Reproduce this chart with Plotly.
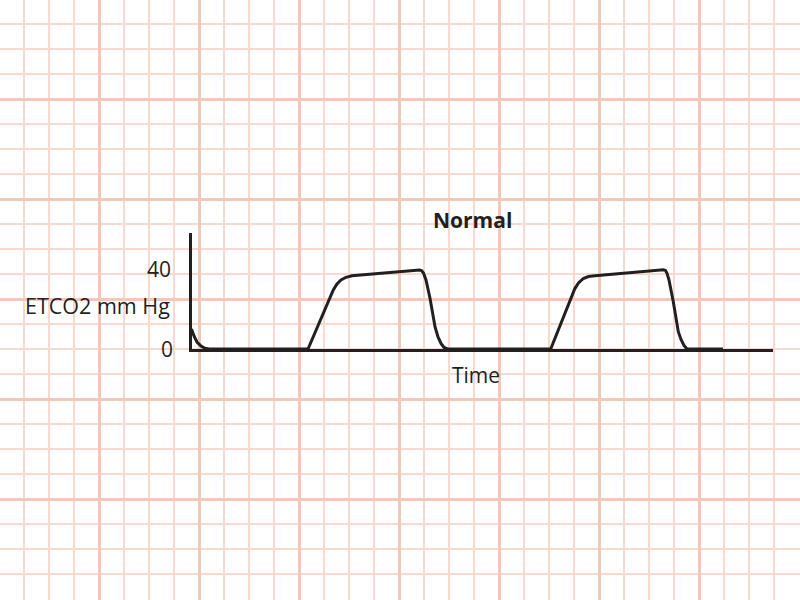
import plotly.graph_objects as go

# ---- data -------------------------------------------------------------
# time (arbitrary units) and ETCO2 (mm Hg) for the capnogram trace
time_vals = [0, 2.5, 5.5, 9.5, 13.5, 17.5, 116.5,
             141.8, 145.5, 149.5, 154.5, 160.5, 227.8, 230, 232, 234.5, 238.5, 243.5,
             246.5, 249.5, 252.5, 256,
             359.2,
             383.5, 387, 391.8, 397, 403.5, 471.8, 474, 475.5, 477.5, 481.8, 486.8,
             489.5, 492.5, 495.5,
             531.5]
etco2_vals = [10.0, 6.5, 3.5, 1.5, 0.35, 0, 0,
              29.5, 32.5, 34.5, 35.85, 36.65, 39.5, 39.25, 38.0, 34.5, 25.35, 11.15,
              6.0, 2.75, 0.75, 0,
              0,
              30.35, 33.0, 35.25, 36.25, 36.65, 39.65, 39.25, 37.85, 34.5, 23.65, 8.65,
              4.75, 1.75, 0,
              0]
y_tick_vals = [0, 40]
y_tick_text = ["0", "40"]
title_text = "Normal"
y_label = "ETCO2 mm Hg"
x_label = "Time"

INK = "#231F20"
FONT = "Open Sans"
W, H = 800, 600

fig = go.Figure()

# invisible trace so the background (grid paper) subplot is rendered
fig.add_trace(go.Scatter(x=[0, W], y=[0, H], mode="markers",
                         marker=dict(opacity=0), hoverinfo="skip",
                         showlegend=False, xaxis="x", yaxis="y"))

fig.add_trace(go.Scatter(x=time_vals, y=etco2_vals, mode="lines",
                         line=dict(color=INK, width=3),
                         hoverinfo="skip", showlegend=False, cliponaxis=False,
                         xaxis="x2", yaxis="y2"))

def py(p):
    return 1 - p / H

def px(p):
    return p / W

major_c = "#F2C8BA"
minor_c = "#F7D9CF"

# y tick labels drawn as annotations at the data values of the ETCO2 axis
tick_x = {"0": 175.3, "40": 172.7}
annotations = [
    dict(text=t, x=px(tick_x[t]), y=v, xref="paper", yref="y2",
         xanchor="right", yanchor="middle", showarrow=False,
         font=dict(family=FONT, size=21, color=INK))
    for v, t in zip(y_tick_vals, y_tick_text)
]
annotations += [
    dict(text="<b>" + title_text + "</b>", x=px(472.5), y=py(220), xref="paper", yref="paper",
         xanchor="center", yanchor="middle", showarrow=False,
         font=dict(family=FONT, size=21, color=INK)),
    dict(text=y_label, x=px(172), y=py(305.5), xref="paper", yref="paper",
         xanchor="right", yanchor="middle", showarrow=False,
         font=dict(family=FONT, size=21.5, color=INK)),
    dict(text=x_label, x=px(475.5), y=py(375), xref="paper", yref="paper",
         xanchor="center", yanchor="middle", showarrow=False,
         font=dict(family=FONT, size=21, color=INK)),
]

fig.update_layout(
    width=W, height=H, autosize=False,
    margin=dict(l=0, r=0, t=0, b=0, pad=0),
    paper_bgcolor="white",
    plot_bgcolor="rgba(0,0,0,0)",
    font=dict(family=FONT, color=INK, size=21),
    xaxis=dict(domain=[0, 1], range=[0, W], showticklabels=False, ticks="",
               zeroline=False, showline=False, fixedrange=True,
               showgrid=True, tick0=-1, dtick=100, gridcolor=major_c, gridwidth=2.6,
               minor=dict(tick0=-1, dtick=25, showgrid=True, gridcolor=minor_c,
                          gridwidth=2)),
    yaxis=dict(domain=[0, 1], range=[H, 0], showticklabels=False, ticks="",
               zeroline=False, showline=False, fixedrange=True,
               showgrid=True, tick0=-1, dtick=100, gridcolor=major_c, gridwidth=2.6,
               minor=dict(tick0=-1, dtick=25, showgrid=True, gridcolor=minor_c,
                          gridwidth=2)),
    xaxis2=dict(domain=[px(191.5), px(772.7)], range=[0, 581.2], anchor="y2",
                showline=True, linecolor=INK, linewidth=3, showgrid=False,
                zeroline=False, showticklabels=False, ticks="", fixedrange=True),
    yaxis2=dict(domain=[py(349), py(233)], range=[0, 58.0], anchor="x2",
                showline=True, linecolor=INK, linewidth=3, showgrid=False,
                zeroline=False, ticks="", showticklabels=False, fixedrange=True),
    annotations=annotations,
)

post = (
    "document.documentElement.style.margin='0';"
    "document.body.style.margin='0';"
    "document.documentElement.style.overflow='hidden';"
    "document.body.style.overflow='hidden';"
)

fig.write_html("out.html", config={"displayModeBar": False, "responsive": False},
               post_script=post)
